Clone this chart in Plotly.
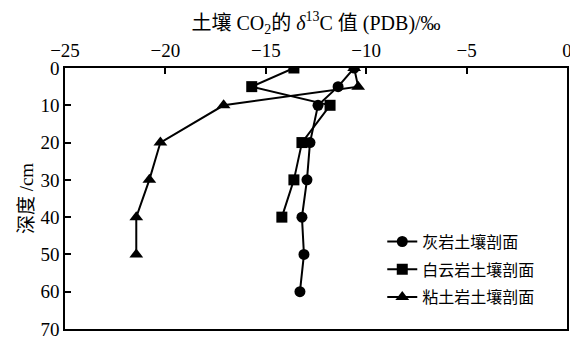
import plotly.graph_objects as go

# Data
depth_limestone = [0, 5, 10, 20, 30, 40, 50, 60]
d13c_limestone = [-10.6, -11.4, -12.4, -12.8, -12.95, -13.2, -13.1, -13.3]

depth_dolomite = [0, 5, 10, 20, 30, 40]
d13c_dolomite = [-13.6, -15.7, -11.8, -13.2, -13.6, -14.2]

depth_claystone = [0, 5, 10, 20, 30, 40, 50]
d13c_claystone = [-10.6, -10.4, -17.1, -20.25, -20.8, -21.45, -21.45]

names = ["灰岩土壤剖面", "白云岩土壤剖面", "粘土岩土壤剖面"]
x_ticks = [-25, -20, -15, -10, -5, 0]
x_labels = ["\u221225", "\u221220", "\u221215", "\u221210", "\u22125", "0"]
y_ticks = [0, 10, 20, 30, 40, 50, 60, 70]

FONT = "Liberation Serif, Times New Roman, Noto Sans CJK SC, serif"
CJK = "Noto Sans CJK SC, sans-serif"

fig = go.Figure()
series = [
    (d13c_limestone, depth_limestone, "circle", 11),
    (d13c_dolomite, depth_dolomite, "square", 11),
    (d13c_claystone, depth_claystone, "triangle-up", 12),
]
for i, ((xs, ys, sym, sz), nm) in enumerate(zip(series, names)):
    fig.add_trace(go.Scatter(
        x=xs, y=ys, mode="lines+markers", name=nm, legendgroup=f"g{i}",
        line=dict(color="black", width=2),
        marker=dict(symbol=sym, size=sz, color="black"),
    ))

fig.update_layout(
    width=570, height=337,
    margin=dict(l=65, r=3, t=68, b=8),
    paper_bgcolor="white", plot_bgcolor="white",
    font=dict(family=FONT, color="black", size=18),
    showlegend=True,
    legend=dict(
        x=0.632, y=0.40, xanchor="left", yanchor="top",
        font=dict(family=CJK, size=16, color="black"),
        itemwidth=30, tracegroupgap=4,
        bgcolor="rgba(0,0,0,0)",
    ),
    xaxis=dict(
        side="top", range=[-25, 0], tickvals=x_ticks, ticktext=x_labels,
        ticks="inside", ticklen=6, tickwidth=1.5, tickcolor="black",
        showline=True, linecolor="black", linewidth=1.5, mirror=True,
        showgrid=False, zeroline=False, ticklabelstandoff=2, automargin=False,
        ticklabeloverflow="allow",
        tickfont=dict(family=FONT, size=19),
        title=dict(text="土壤 CO<sub>2</sub>的 <i>δ</i><sup>13</sup>C 值 (PDB)/‰",
                   font=dict(family=FONT, size=20), standoff=4),
    ),
    yaxis=dict(
        range=[70, 0], tickvals=y_ticks,
        ticks="inside", ticklen=6, tickwidth=1.5, tickcolor="black",
        showline=True, linecolor="black", linewidth=1.5, mirror=True,
        showgrid=False, zeroline=False, ticklabeloverflow="allow", automargin=False,
        tickfont=dict(family=FONT, size=19),
        title=dict(text="深度 /cm", font=dict(family=FONT, size=19), standoff=2),
    ),
)

fig.write_html(
    "out.html",
    config={"displayModeBar": False},
    post_script="document.body.style.margin='0';document.body.style.overflow='hidden';",
)
